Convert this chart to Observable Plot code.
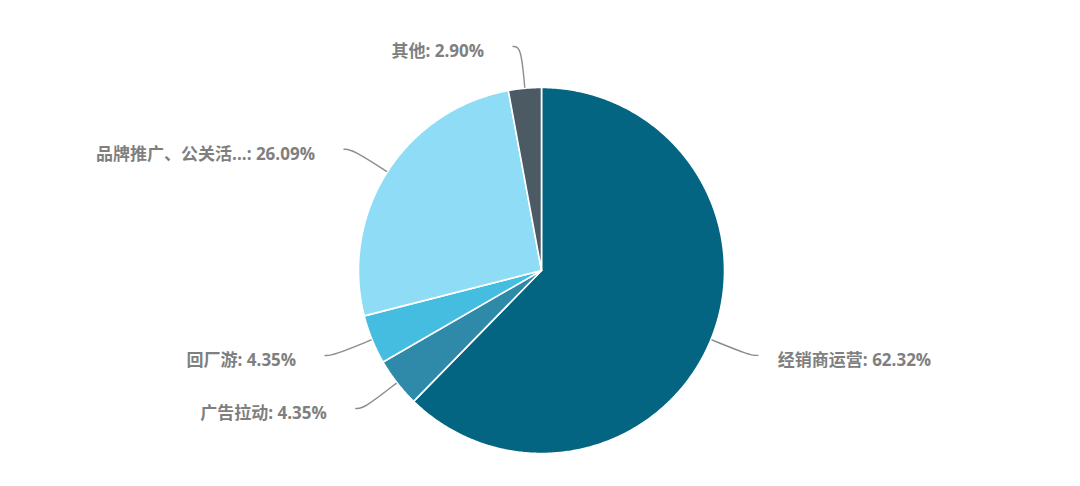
<!DOCTYPE html>
<html><head><meta charset="utf-8">
<script src="https://cdn.jsdelivr.net/npm/d3@7"></script>
<script src="https://cdn.jsdelivr.net/npm/@observablehq/plot@0.6"></script>
<style>body{margin:0;background:#fff}#chart svg{display:block}</style>
</head><body><div id="chart"></div>
<script>
const categories = ["经销商运营", "广告拉动", "回厂游", "品牌推广、公关活...", "其他"];
const shares = [62.32, 4.35, 4.35, 26.09, 2.90];
const colors = ["#046583", "#2e8aa8", "#44bde0", "#8edcf5", "#4c5a63"];

const W = 1080, H = 486, cx = 541, cy = 270, R = 183;
const total = d3.sum(shares);

// slice polygons (angle 0 at 12 o'clock, clockwise)
const slicePts = [];
const leaders = [];
const labels = [];
let acc = 0;
categories.forEach((name, i) => {
  const a0 = acc / total * 2 * Math.PI;
  acc += shares[i];
  const a1 = acc / total * 2 * Math.PI;
  slicePts.push({name, x: 0, y: 0});
  const n = Math.max(4, Math.ceil((a1 - a0) / (Math.PI / 360)));
  for (let k = 0; k <= n; k++) {
    const a = a0 + (a1 - a0) * k / n;
    slicePts.push({name, x: R * Math.sin(a), y: R * Math.cos(a)});
  }
  slicePts.push({name, x: 0, y: 0});
  const am = (a0 + a1) / 2;
  const sx = Math.sin(am), sy = Math.cos(am);
  const side = sx >= 0 ? 1 : -1;
  const p0 = {x: (R + 1) * sx, y: (R + 1) * sy};
  const p1 = {x: (R + 42) * sx, y: (R + 42) * sy};
  const p2 = {x: p1.x + side * 8, y: p1.y};
  [p0, p1, p2].forEach(p => leaders.push({name, ...p}));
  labels.push({name, side, x: p2.x + side * (side > 0 ? 20 : 29), y: p2.y,
    text: `${name}: ${shares[i].toFixed(2)}%`});
});

const font = "'Open Sans','Noto Sans CJK SC',sans-serif";
const chart = Plot.plot({
  width: W, height: H,
  margin: 0,
  x: {domain: [-cx, W - cx], axis: null},
  y: {domain: [-(H - cy), cy], axis: null},
  color: {domain: categories, range: colors},
  style: {fontFamily: font, background: "#fff"},
  marks: [
    Plot.line(slicePts, {x: "x", y: "y", z: "name", fill: "name", stroke: "#fff", strokeWidth: 1.6, strokeLinejoin: "round", curve: "linear"}),
    Plot.line(leaders, {x: "x", y: "y", z: "name", stroke: "#8c8c8c", strokeWidth: 1.4, curve: "basis"}),
    Plot.text(labels.filter(d => d.side > 0), {x: "x", y: "y", text: "text", textAnchor: "start", fill: "#7f7f7f", fontSize: 17, fontWeight: "bold", dy: 5}),
    Plot.text(labels.filter(d => d.side < 0), {x: "x", y: "y", text: "text", textAnchor: "end", fill: "#7f7f7f", fontSize: 17, fontWeight: "bold", dy: 5})
  ]
});
document.getElementById("chart").append(chart);
</script>
</body></html>
